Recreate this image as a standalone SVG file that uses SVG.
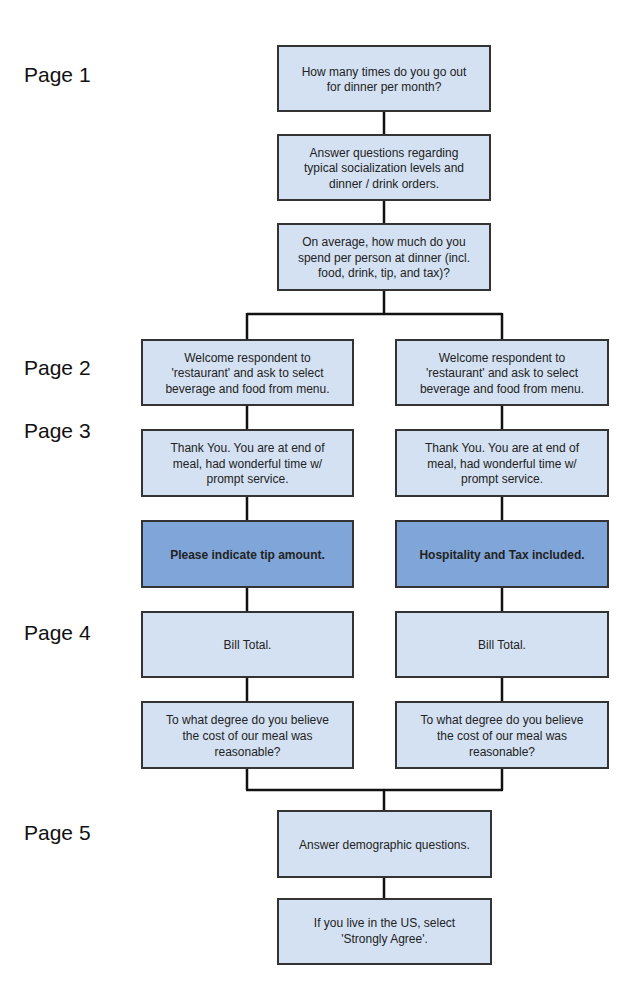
<svg xmlns="http://www.w3.org/2000/svg" width="639" height="999" viewBox="0 0 639 999">
<style>
.bx{fill:#d4e1f2;stroke:#333;stroke-width:2}
.dk{fill:#80a6d9;stroke:#333;stroke-width:2}
.t{font-family:"Liberation Sans",Arial,sans-serif;font-size:12px;fill:#222;text-anchor:middle}
.b{font-weight:bold}
.pg{font-family:"Liberation Sans",Arial,sans-serif;font-size:21px;fill:#111}
.c{fill:none;stroke:#111;stroke-width:2.5}
</style>
<rect width="639" height="999" fill="#fff"/>
<g id="labels">
<text class="pg" x="24" y="82">Page 1</text>
<text class="pg" x="24" y="375">Page 2</text>
<text class="pg" x="24" y="438">Page 3</text>
<text class="pg" x="24" y="640">Page 4</text>
<text class="pg" x="24" y="840">Page 5</text>
</g>
<g id="connectors">
<path class="c" d="M384 111V135M384 200V224M384 290V314M247 314H502M247 313V340M502 313V340"/>
<path class="c" d="M247 405V430M247 496V521M247 587V612M247 677V702M247 768V790"/>
<path class="c" d="M502 405V430M502 496V521M502 587V612M502 677V702M502 768V790"/>
<path class="c" d="M246 790H503M384 790V811M384 877V899"/>
</g>
<g id="n1"><rect class="bx" x="278" y="46" width="212" height="65"/>
<text class="t" x="384" y="75.5">How many times do you go out</text><text class="t" x="384" y="90.5">for dinner per month?</text></g>
<g id="n2"><rect class="bx" x="278" y="135" width="212" height="65"/>
<text class="t" x="384" y="156.5">Answer questions regarding</text><text class="t" x="384" y="172">typical socialization levels and</text><text class="t" x="384" y="187.5">dinner / drink orders.</text></g>
<g id="n3"><rect class="bx" x="278" y="224" width="212" height="66"/>
<text class="t" x="384" y="246">On average, how much do you</text><text class="t" x="384" y="261.5">spend per person at dinner (incl.</text><text class="t" x="384" y="277">food, drink, tip, and tax)?</text></g>
<g id="l1"><rect class="bx" x="142" y="340" width="211" height="65"/>
<text class="t" x="247.5" y="361.5">Welcome respondent to</text><text class="t" x="247.5" y="377">'restaurant' and ask to select</text><text class="t" x="247.5" y="392.5">beverage and food from menu.</text></g>
<g id="r1"><rect class="bx" x="396" y="340" width="212" height="65"/>
<text class="t" x="502" y="361.5">Welcome respondent to</text><text class="t" x="502" y="377">'restaurant' and ask to select</text><text class="t" x="502" y="392.5">beverage and food from menu.</text></g>
<g id="l2"><rect class="bx" x="142" y="430" width="211" height="66"/>
<text class="t" x="247.5" y="452">Thank You. You are at end of</text><text class="t" x="247.5" y="467.5">meal, had wonderful time w/</text><text class="t" x="247.5" y="483">prompt service.</text></g>
<g id="r2"><rect class="bx" x="396" y="430" width="212" height="66"/>
<text class="t" x="502" y="452">Thank You. You are at end of</text><text class="t" x="502" y="467.5">meal, had wonderful time w/</text><text class="t" x="502" y="483">prompt service.</text></g>
<g id="l3"><rect class="dk" x="142" y="521" width="211" height="66"/>
<text class="t b" x="247.5" y="558.5">Please indicate tip amount.</text></g>
<g id="r3"><rect class="dk" x="396" y="521" width="212" height="66"/>
<text class="t b" x="502" y="558.5">Hospitality and Tax included.</text></g>
<g id="l4"><rect class="bx" x="142" y="612" width="211" height="65"/>
<text class="t" x="247.5" y="649">Bill Total.</text></g>
<g id="r4"><rect class="bx" x="396" y="612" width="212" height="65"/>
<text class="t" x="502" y="649">Bill Total.</text></g>
<g id="l5"><rect class="bx" x="142" y="702" width="211" height="66"/>
<text class="t" x="247.5" y="723.5">To what degree do you believe</text><text class="t" x="247.5" y="739.5">the cost of our meal was</text><text class="t" x="247.5" y="755.5">reasonable?</text></g>
<g id="r5"><rect class="bx" x="396" y="702" width="212" height="66"/>
<text class="t" x="502" y="723.5">To what degree do you believe</text><text class="t" x="502" y="739.5">the cost of our meal was</text><text class="t" x="502" y="755.5">reasonable?</text></g>
<g id="n4"><rect class="bx" x="278" y="811" width="213" height="66"/>
<text class="t" x="384.5" y="848.5">Answer demographic questions.</text></g>
<g id="n5"><rect class="bx" x="278" y="899" width="213" height="65"/>
<text class="t" x="384.5" y="927">If you live in the US, select</text><text class="t" x="384.5" y="943">'Strongly Agree'.</text></g>
</svg>
